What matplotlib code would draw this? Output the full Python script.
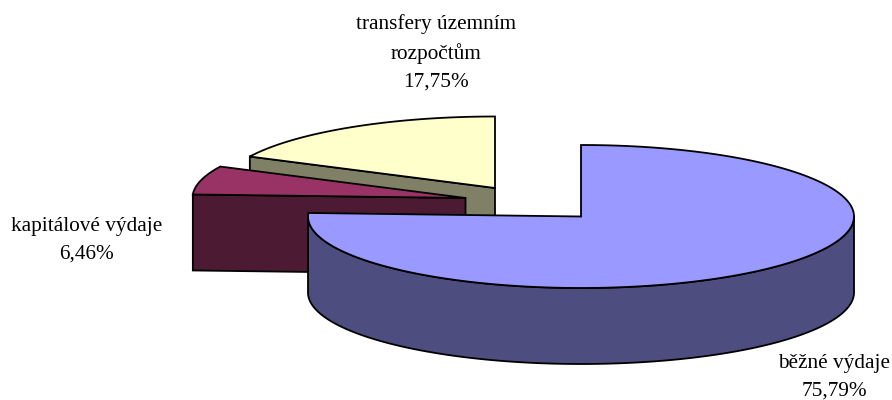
import matplotlib
matplotlib.use('Agg')
import matplotlib.pyplot as plt
import numpy as np

labels = ['běžné výdaje', 'kapitálové výdaje', 'transfery územním\nrozpočtům']
shares = [75.79, 6.46, 17.75]
shares_text = ['75,79%', '6,46%', '17,75%']

top_colors = ['#9999FF', '#993366', '#FFFFCC']
side_colors = ['#4D4D80', '#4D1A33', '#808066']

# exploded slices: apex of each top face, in pixels
centers = [(581, 216.5), (465.5, 198), (495, 188)]
label_pos = [(834.5, 377), (86.5, 240), (436, 53)]

a = 273
b = 71.5
depth = 76

plt.rcParams['font.family'] = ['Liberation Serif', 'DejaVu Serif']

fig = plt.figure(figsize=(8.92, 4.0), dpi=100)
ax = fig.add_axes([0, 0, 1, 1])
ax.set_xlim(0, 892)
ax.set_ylim(400, 0)
ax.axis('off')


def rim(cx, cy, t1, t2):
    # points on the ellipse, t in degrees clockwise from 12 o'clock
    t = np.radians(np.arange(t1, t2, 0.5).tolist() + [t2])
    return np.column_stack([cx + a * np.sin(t), cy - b * np.cos(t)])


edges = np.concatenate([[0], np.cumsum(shares)]) * 3.6

# back slices first so the big one sits on top
for i in [2, 1, 0]:
    cx, cy = centers[i]
    t1, t2 = edges[i], edges[i + 1]
    lw = 1.3

    # outer wall, only the part facing the viewer (t 90..270)
    w1, w2 = max(t1, 90), min(t2, 270)
    if w1 < w2:
        front = rim(cx, cy, w1, w2)
        wall = np.vstack([front, front[::-1] + [0, depth]])
        ax.fill(wall[:, 0], wall[:, 1], fc=side_colors[i], ec='black', lw=lw)

    # cut face at the start of the slice on the left side
    if t1 > 180:
        p = rim(cx, cy, t1, t1)[0]
        face = np.array([[cx, cy], p, p + [0, depth], [cx, cy + depth]])
        ax.fill(face[:, 0], face[:, 1], fc=side_colors[i], ec='black', lw=lw)

    top = np.vstack([[cx, cy], rim(cx, cy, t1, t2)])
    ax.fill(top[:, 0], top[:, 1], fc=top_colors[i], ec='black', lw=lw, joinstyle='miter')

for i in range(3):
    x, y = label_pos[i]
    ax.text(x, y, labels[i] + '\n' + shares_text[i], ha='center', va='center',
            fontsize=15.3, color='black', linespacing=1.6)

fig.savefig('out.png', dpi=100)
